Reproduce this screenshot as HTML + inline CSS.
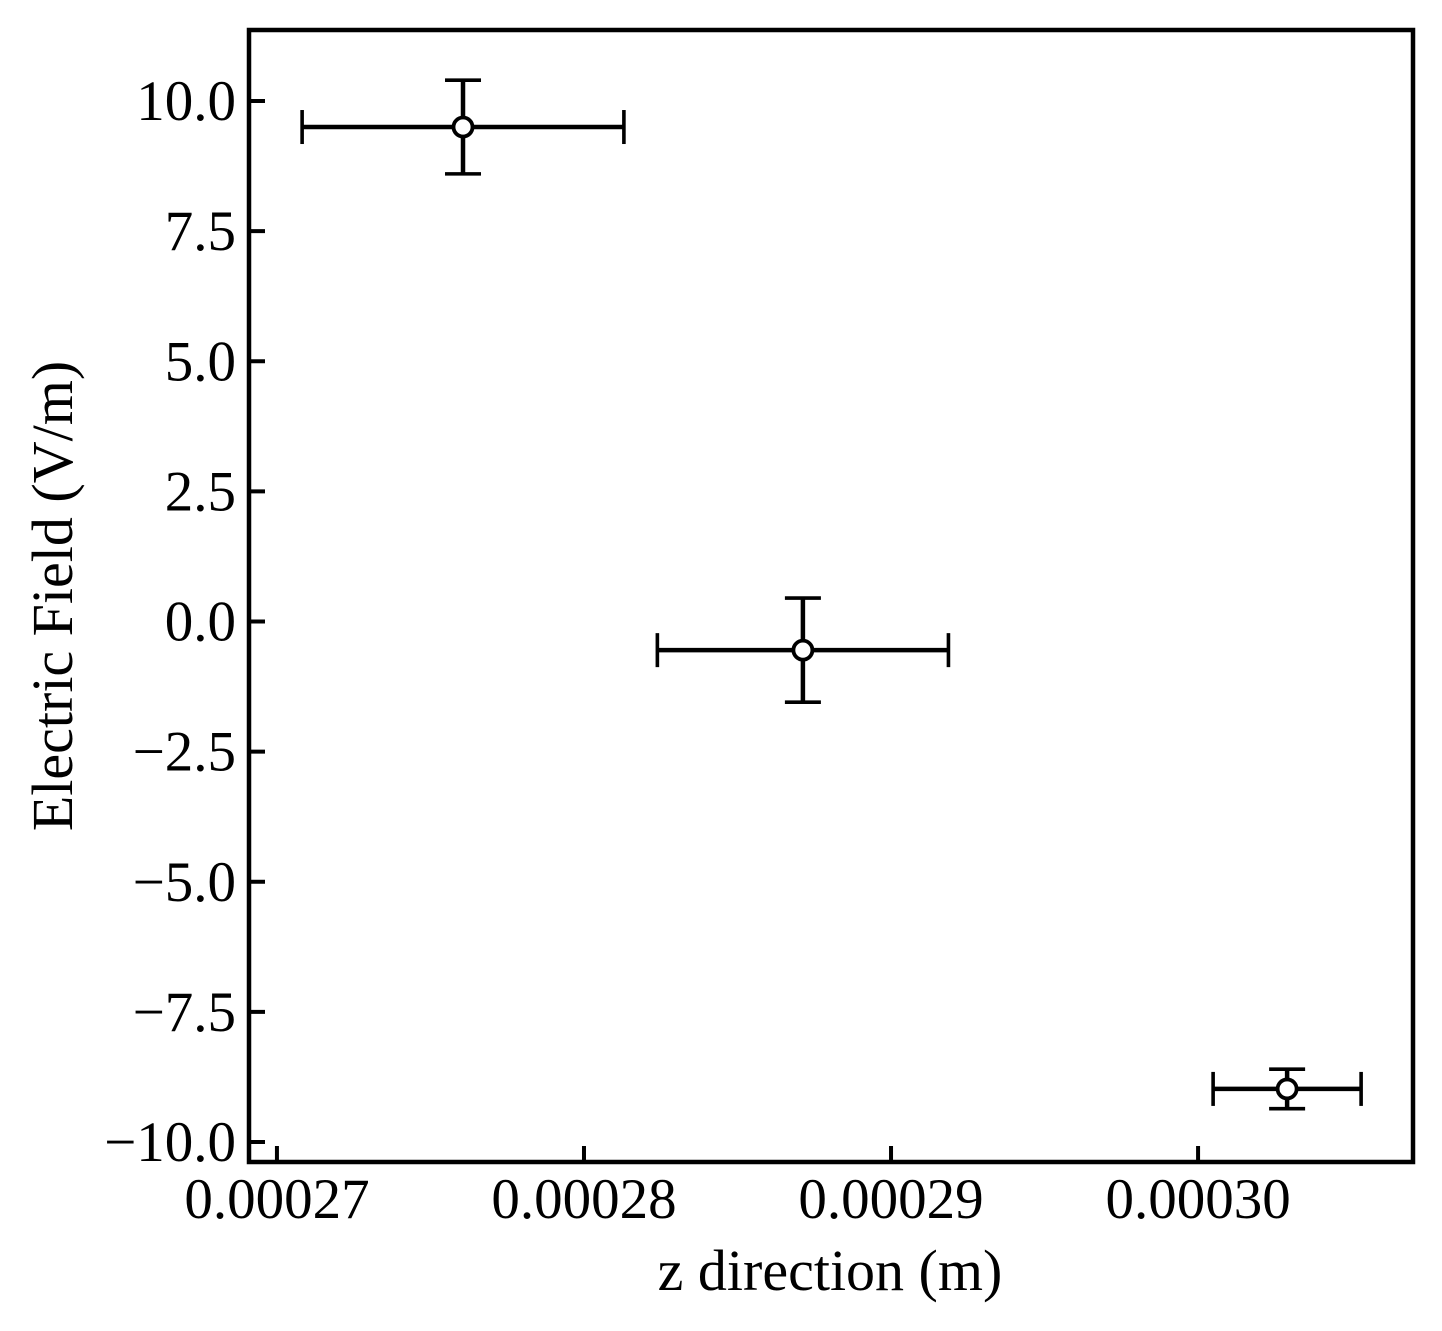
<!DOCTYPE html>
<html><head><meta charset="utf-8"><style>
html,body{margin:0;padding:0;background:#fff;}
svg{display:block;font-family:"Liberation Serif","Times New Roman",serif;}
</style></head><body>
<svg id="chart" width="1442" height="1331" xmlns="http://www.w3.org/2000/svg"></svg>
<script>
const xValues = [0.00027606, 0.00028713, 0.00030290];
const yValues = [9.50, -0.55, -8.98];
const xErrors = [0.00000524, 0.00000474, 0.00000241];
const yErrors = [0.90, 1.00, 0.38];
const xTicks = [0.00027, 0.00028, 0.00029, 0.00030];
const xTickLabels = ["0.00027", "0.00028", "0.00029", "0.00030"];
const yTicks = [10, 7.5, 5, 2.5, 0, -2.5, -5, -7.5, -10];
const yTickLabels = ["10.0", "7.5", "5.0", "2.5", "0.0", "\u22122.5", "\u22125.0", "\u22127.5", "\u221210.0"];

const L = 249, R = 1413, T = 30, B = 1162;
const xMin = 0.00026909, xMax = 0.00030700, yMin = -10.384, yMax = 11.364;
const sx = v => L + (v - xMin) / (xMax - xMin) * (R - L);
const sy = v => B - (v - yMin) / (yMax - yMin) * (B - T);
const svg = document.getElementById('chart');
const NS = 'http://www.w3.org/2000/svg';
function mk(tag, attrs, parent) {
  const e = document.createElementNS(NS, tag);
  for (const k in attrs) e.setAttribute(k, attrs[k]);
  (parent || svg).appendChild(e);
  return e;
}
xTicks.forEach((v, i) => {
  const x = sx(v);
  const t = mk('line', {x1: x, x2: x, y1: B, y2: B - 16, stroke: '#000', 'stroke-width': 4});
  
  
  const lb = mk('text', {x: x, y: B + 56, 'text-anchor': 'middle', 'font-size': 57, fill: '#000'});
  lb.textContent = xTickLabels[i];
  
  
});
yTicks.forEach((v, i) => {
  const y = sy(v);
  const t = mk('line', {x1: L, x2: L + 16, y1: y, y2: y, stroke: '#000', 'stroke-width': 4});
  
  
  const lb = mk('text', {x: L - 13, y: y + 19, 'text-anchor': 'end', 'font-size': 57, fill: '#000'});
  lb.textContent = yTickLabels[i];
  
  
});
xValues.forEach((xv, i) => {
  const g = mk('g', {});
  
  
  const cx = sx(xv), cy = sy(yValues[i]);
  const x0 = sx(xv - xErrors[i]), x1 = sx(xv + xErrors[i]);
  const y0 = sy(yValues[i] + yErrors[i]), y1 = sy(yValues[i] - yErrors[i]);
  const st = {stroke: '#000', 'stroke-width': 4.5};
  const cp = {stroke: '#000', 'stroke-width': 3.6};
  mk('line', Object.assign({x1: x0, x2: x1, y1: cy, y2: cy}, st), g);
  mk('line', Object.assign({x1: cx, x2: cx, y1: y0, y2: y1}, st), g);
  mk('line', Object.assign({x1: x0, x2: x0, y1: cy - 17, y2: cy + 17}, cp), g);
  mk('line', Object.assign({x1: x1, x2: x1, y1: cy - 17, y2: cy + 17}, cp), g);
  mk('line', Object.assign({x1: cx - 18, x2: cx + 18, y1: y0, y2: y0}, cp), g);
  mk('line', Object.assign({x1: cx - 18, x2: cx + 18, y1: y1, y2: y1}, cp), g);
  mk('circle', {cx: cx, cy: cy, r: 9.5, fill: '#fff', stroke: '#000', 'stroke-width': 3.8}, g);
});
const fr = mk('rect', {x: L, y: T, width: R - L, height: B - T, fill: 'none', stroke: '#000', 'stroke-width': 4.5});


const xt = mk('text', {x: 830, y: 1290, 'text-anchor': 'middle', 'font-size': 58, fill: '#000'});
xt.textContent = 'z direction (m)';


const yt = mk('text', {x: 0, y: 0, 'text-anchor': 'middle', 'font-size': 58, fill: '#000', transform: 'translate(72,596) rotate(-90)'});
yt.textContent = 'Electric Field (V/m)';


</script>
</body></html>
